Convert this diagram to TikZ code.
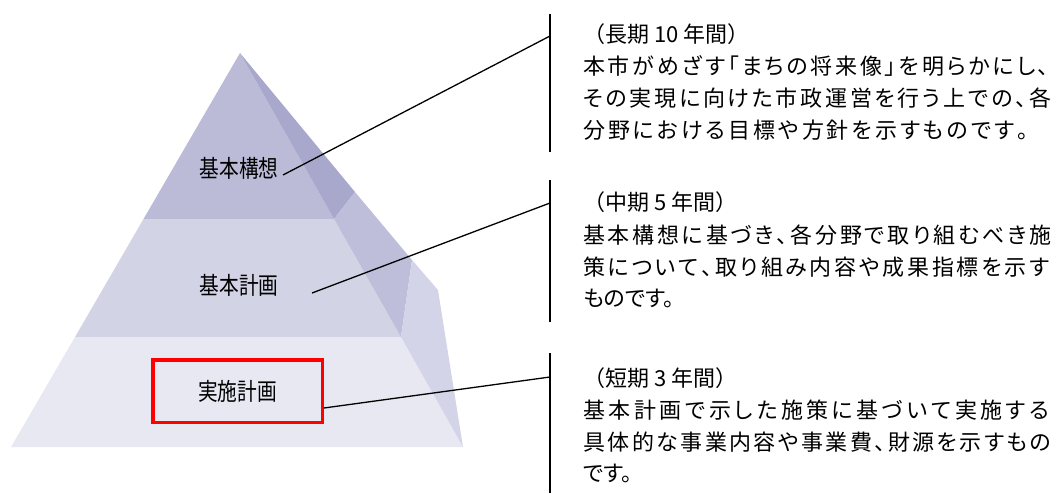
\documentclass[tikz,border=0pt]{standalone}
\usepackage{fontspec}
\usepackage{graphicx}
\newfontfamily\jp{Noto Sans CJK JP}
\newfontfamily\jpp[RawFeature=+palt]{Noto Sans CJK JP}
\ExplSyntaxOn
\NewDocumentCommand\jline{mm}{\makebox[#1][s]{\tl_map_inline:nn{#2}{##1\hfil}\unskip}}
\ExplSyntaxOff
\definecolor{topF}{HTML}{BBBBD8}
\definecolor{topS}{HTML}{A8A8CC}
\definecolor{midF}{HTML}{D3D3E6}
\definecolor{midS}{HTML}{BEBEDA}
\definecolor{botF}{HTML}{E8E8F3}
\definecolor{botS}{HTML}{D4D4E8}
\tikzset{
  body/.style={anchor=base west, inner sep=0pt, font=\jpp\fontsize{22}{22}\selectfont},
  paren/.style={anchor=base west, inner sep=0pt, font=\jp\fontsize{22}{22}\selectfont},
  plabel/.style={inner sep=0pt, font=\jp\fontsize{24}{24}\selectfont},
  bar/.style={line width=1.6pt},
  conn/.style={line width=1.3pt}
}
\newcommand{\pl}[1]{\scalebox{0.82}[1]{#1}}
\begin{document}
\begin{tikzpicture}[x=1pt,y=-1pt]
\useasboundingbox (0,0) rectangle (1060,493);
% pyramid
\fill[topF] (240,53) -- (143.5,219) -- (334,219) -- cycle;
\fill[topS] (240,53) -- (355,192) -- (334,219) -- cycle;
\fill[midF] (143.5,219) -- (75,337) -- (401,337) -- (334,219) -- cycle;
\fill[midS] (334,219) -- (355,192) -- (412,260) -- (401,337) -- cycle;
\fill[botF] (75,337) -- (11,447) -- (463,447) -- (401,337) -- cycle;
\fill[botS] (401,337) -- (412,260) -- (438,290) -- (463,447) -- cycle;
% labels
\node[plabel] (k1) at (239,168) {\pl{基本構想}};
\node[plabel] (k2) at (239,285) {\pl{基本計画}};
\node[plabel, draw=red, line width=3.5pt, minimum width=169.5pt, minimum height=62.5pt] (k3) at (237.5,391) {\pl{実施計画}};
% bars
\coordinate (b1t) at (550,14);  \coordinate (b1b) at (550,152);
\coordinate (b2t) at (550,180); \coordinate (b2b) at (550,322);
\coordinate (b3t) at (550,353); \coordinate (b3b) at (550,493);
\draw[bar] (b1t) -- (b1b);
\draw[bar] (b2t) -- (b2b);
\draw[bar] (b3t) -- (b3b);
% connectors
\coordinate (s1) at (283,175); \coordinate (e1) at (550,36);
\coordinate (s2) at (312,293); \coordinate (e2) at (550,203);
\coordinate (s3) at (324,408); \coordinate (e3) at (550,377);
\draw[conn] (s1) -- (e1);
\draw[conn] (s2) -- (e2);
\draw[conn] (s3) -- (e3);
% text block 1
\node[paren] (t11) at (583,42.5) {（長期 10 年間）};
\node[body] (t12) at (583,74.5) {\jline{466pt}{本市がめざす「まちの将来像」を明らかにし、}};
\node[body] (t13) at (583,106.5) {\jline{468pt}{その実現に向けた市政運営を行う上での、各}};
\node[body] (t14) at (583,138.5) {\jline{445pt}{分野における目標や方針を示すものです。}};
% text block 2
\node[paren] (t21) at (583,210.5) {（中期 5 年間）};
\node[body] (t22) at (583,243) {\jline{468pt}{基本構想に基づき、各分野で取り組むべき施}};
\node[body] (t23) at (583,275) {\jline{466pt}{策について、取り組み内容や成果指標を示す}};
\node[body] (t24) at (583,306.5) {ものです。};
% text block 3
\node[paren] (t31) at (583,386.5) {（短期 3 年間）};
\node[body] (t32) at (583,418.5) {\jline{466pt}{基本計画で示した施策に基づいて実施する}};
\node[body] (t33) at (583,450.5) {\jline{468pt}{具体的な事業内容や事業費、財源を示すもの}};
\node[body] (t34) at (583,481.5) {です。};
\end{tikzpicture}
\end{document}
